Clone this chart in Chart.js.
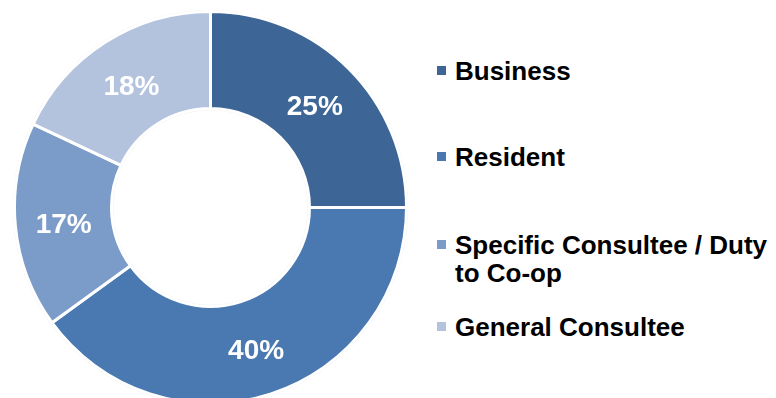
<!DOCTYPE html>
<html>
<head>
<meta charset="utf-8">
<script src="https://cdn.jsdelivr.net/npm/chart.js@4.4.1/dist/chart.umd.min.js"></script>
<style>
  html, body { margin: 0; padding: 0; background: #fff; overflow: hidden; }
  body { width: 776px; height: 398px; position: relative; font-family: 'Liberation Sans', Arial, sans-serif; }
  #pieWrap { position: absolute; left: 13px; top: 10px; width: 395px; height: 395px; }
  #legend { position: absolute; left: 0; top: 0; }
  .leg-item { position: absolute; left: 437px; width: 336px; font-weight: bold; font-size: 26px; line-height: 28px; color: #000; }
  .leg-item .swatch { position: absolute; left: 0; top: 9px; width: 9px; height: 9px; }
  .leg-item .txt { margin-left: 18px; display: block; }
  .leg-item:nth-child(1) { top: 57px; }
  .leg-item:nth-child(2) { top: 143px; }
  .leg-item:nth-child(3) { top: 231px; }
  .leg-item:nth-child(4) { top: 313px; }
</style>
</head>
<body>
<div id="pieWrap"><canvas id="respondentChart"></canvas></div>
<div id="legend"></div>
<script>
// ── Respondent type breakdown ──
const categories = ['Business', 'Resident', 'Specific Consultee / Duty to Co-op', 'General Consultee'];
const shares = [25, 40, 17, 18];
const sliceColors = ['#3d6596', '#4a79b1', '#7b9cc8', '#b3c3de'];

// Soft grey edge round the ring
const ringEdge = {
  id: 'ringEdge',
  beforeDatasetsDraw(chart) {
    const arc = chart.getDatasetMeta(0).data[0];
    if (!arc) return;
    const { x, y, outerRadius, innerRadius } = arc.getProps(['x', 'y', 'outerRadius', 'innerRadius'], true);
    const ctx = chart.ctx;
    ctx.save();
    ctx.strokeStyle = '#eeeeee';
    ctx.lineWidth = 2.5;
    ctx.beginPath();
    ctx.arc(x, y, outerRadius + 0.5, 0, Math.PI * 2);
    ctx.stroke();
    ctx.beginPath();
    ctx.arc(x, y, innerRadius - 0.5, 0, Math.PI * 2);
    ctx.stroke();
    ctx.restore();
  }
};

// Percentage labels in the middle of each slice
const sliceLabels = {
  id: 'sliceLabels',
  afterDatasetsDraw(chart) {
    const ctx = chart.ctx;
    const meta = chart.getDatasetMeta(0);
    ctx.save();
    ctx.fillStyle = '#ffffff';
    ctx.font = "bold 28px 'Liberation Sans', Arial, sans-serif";
    ctx.textAlign = 'center';
    ctx.textBaseline = 'middle';
    meta.data.forEach((arc, i) => {
      const p = arc.tooltipPosition();
      ctx.fillText(shares[i] + '%', p.x, p.y + 4);
    });
    ctx.restore();
  }
};

const chart = new Chart(document.getElementById('respondentChart'), {
  type: 'doughnut',
  data: {
    labels: categories,
    datasets: [{
      data: shares,
      backgroundColor: sliceColors,
      borderColor: '#ffffff',
      borderWidth: 3,
      hoverOffset: 0
    }]
  },
  options: {
    responsive: true,
    maintainAspectRatio: false,
    animation: false,
    cutout: '50.5%',
    layout: { padding: 0 },
    plugins: {
      legend: { display: false },
      tooltip: { enabled: false }
    }
  },
  plugins: [ringEdge, sliceLabels]
});

// ── HTML legend ──
const legendEl = document.getElementById('legend');
categories.forEach((name, i) => {
  const item = document.createElement('div');
  item.className = 'leg-item';
  item.innerHTML = '<span class="swatch" style="background:' + sliceColors[i] + ';"></span><span class="txt">' + name + '</span>';
  legendEl.appendChild(item);
});
</script>
</body>
</html>
